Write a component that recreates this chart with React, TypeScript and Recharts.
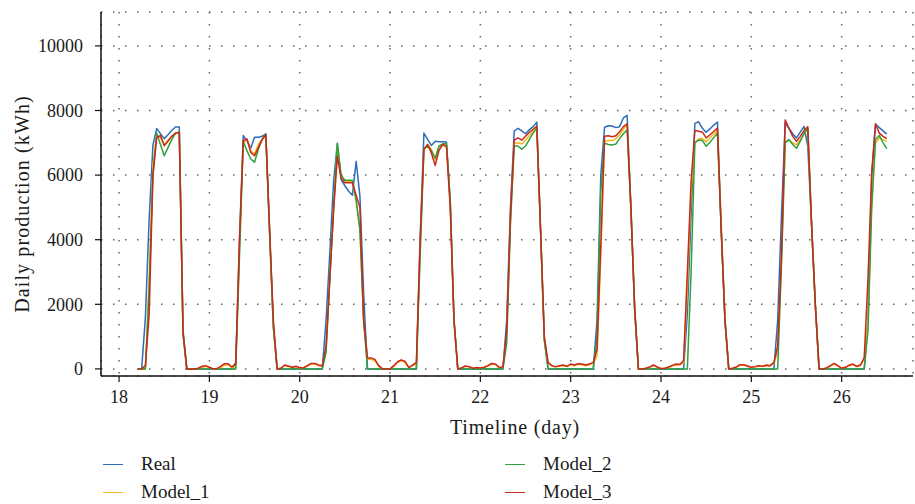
import React from 'react';
import { LineChart, Line, XAxis, YAxis, CartesianGrid } from 'recharts';

// hourly samples, the first one is 05:00 of day 18, the last one 12:00 of day 26
const firstHour = 5;

const real = [
  0, 0, 1600, 4650, 6930, 7440, 7280, 7130, 7250, 7380, 7490, 7490, 1100, 0, 0, 0, 0, 0, 0,
  0, 0, 0, 0, 0, 0, 0, 200, 4000, 7230, 7050, 6840, 7170, 7170, 7200, 7280, 4200, 1300, 0, 0, 0, 0, 0, 0,
  0, 0, 0, 0, 0, 0, 0, 1500, 3600, 5800, 6990, 5860, 5670, 5500, 5380, 6430, 5350, 2300, 0, 0, 0, 0, 0, 0,
  0, 0, 0, 0, 0, 0, 0, 0, 4000, 7300, 7100, 6920, 7045, 7030, 7030, 7025, 5200, 1500, 0, 0, 0, 0, 0, 0,
  0, 0, 0, 0, 0, 0, 0, 1500, 5000, 7360, 7450, 7370, 7280, 7400, 7500, 7640, 4300, 900, 0, 0, 0, 0, 0, 0,
  0, 0, 0, 0, 0, 0, 0, 1500, 6000, 7480, 7530, 7520, 7470, 7500, 7770, 7850, 5000, 1800, 0, 0, 0, 0, 0, 0,
  0, 0, 0, 0, 0, 0, 0, 1700, 4800, 7600, 7650, 7450, 7330, 7430, 7550, 7640, 4300, 1500, 0, 0, 0, 0, 0, 0,
  0, 0, 0, 0, 0, 0, 0, 1500, 4700, 7610, 7450, 7280, 7150, 7330, 7510, 6900, 4500, 2000, 0, 0, 0, 0, 0, 0,
  0, 0, 0, 0, 0, 0, 0, 1500, 6000, 7580, 7470, 7370, 7270,
];

const model1 = [
  0, 0, 0, 2800, 6300, 7250, 7150, 6950, 7080, 7200, 7300, 7330, 1100, 0, 0, 0, 0, 40, 80,
  40, 0, 0, 30, 120, 120, 30, 50, 3800, 7000, 7100, 6750, 6650, 6950, 7100, 7250, 4200, 1300, 0, 30, 100, 70, 40, 70,
  30, 30, 80, 150, 150, 100, 80, 600, 2800, 5000, 6900, 5950, 5800, 5800, 5800, 5250, 4300, 1400, 300, 300, 250, 80, 0, 0,
  0, 80, 200, 250, 200, 40, 100, 150, 3800, 6800, 6950, 6800, 6480, 6850, 6910, 6940, 5100, 1500, 0, 30, 80, 60, 20, 30,
  30, 40, 90, 150, 130, 40, 50, 1000, 4600, 6980, 7000, 6960, 7080, 7220, 7350, 7460, 4300, 900, 180, 90, 60, 90, 100, 70,
  130, 100, 140, 130, 100, 130, 170, 400, 3500, 7050, 7070, 7070, 7130, 7240, 7420, 7560, 5000, 1900, 0, 0, 20, 50, 100, 50,
  10, 20, 50, 90, 130, 120, 200, 2500, 5500, 7000, 7110, 7130, 7030, 7150, 7270, 7380, 4500, 1600, 0, 20, 50, 110, 110, 80,
  40, 60, 90, 70, 100, 90, 180, 500, 3300, 7050, 7080, 7000, 6940, 7100, 7280, 7440, 4500, 2000, 0, 0, 30, 90, 150, 90,
  20, 40, 100, 130, 70, 100, 300, 1500, 5200, 7000, 7150, 7100, 7045,
];

const model2 = [
  0, 0, 0, 2500, 6000, 7300, 6950, 6600, 6850, 7100, 7300, 7330, 1200, 0, 0, 0, 0, 0, 0,
  0, 0, 0, 0, 0, 0, 0, 0, 3500, 7045, 6750, 6500, 6400, 6800, 7100, 7250, 4300, 1300, 0, 0, 0, 0, 0, 0,
  0, 0, 0, 0, 0, 0, 0, 500, 2800, 5000, 6960, 6000, 5840, 5840, 5840, 5200, 4300, 1500, 0, 0, 0, 0, 0, 0,
  0, 0, 0, 0, 0, 0, 0, 0, 3500, 6800, 6900, 6750, 6530, 6900, 6960, 6980, 5200, 1500, 0, 0, 0, 0, 0, 0,
  0, 0, 0, 0, 0, 0, 0, 800, 4500, 6900, 6900, 6800, 6900, 7100, 7300, 7460, 4300, 900, 0, 0, 0, 0, 0, 0,
  0, 0, 0, 0, 0, 0, 0, 1000, 5500, 6990, 6950, 6930, 6960, 7130, 7280, 7400, 5000, 1900, 0, 0, 0, 0, 0, 0,
  0, 0, 0, 0, 0, 0, 0, 0, 3000, 7000, 7090, 7070, 6890, 7020, 7160, 7300, 4300, 1500, 0, 0, 0, 0, 0, 0,
  0, 0, 0, 0, 0, 0, 0, 0, 3200, 7000, 7100, 6950, 6830, 7050, 7280, 7440, 4500, 2000, 0, 0, 0, 0, 0, 0,
  0, 0, 0, 0, 0, 0, 0, 1200, 5000, 7100, 7230, 7000, 6820,
];

const model3 = [
  0, 0, 100, 1700, 6000, 7150, 7230, 6910, 7050, 7200, 7300, 7330, 1100, 0, 0, 0, 20, 80, 100,
  50, 0, 10, 80, 160, 160, 60, 150, 4000, 7070, 7120, 6700, 6600, 6850, 7100, 7250, 4300, 1500, 0, 20, 120, 90, 50, 80,
  40, 30, 100, 170, 170, 120, 100, 700, 2800, 4900, 6580, 5900, 5760, 5760, 5760, 5380, 5000, 1500, 340, 340, 290, 100, 0, 0,
  0, 100, 220, 280, 230, 40, 120, 200, 4000, 6800, 6950, 6680, 6300, 6760, 6960, 6870, 5000, 1500, 0, 30, 90, 70, 20, 40,
  30, 50, 100, 170, 150, 50, 60, 1200, 4800, 7080, 7150, 7080, 7200, 7320, 7420, 7510, 4300, 1000, 200, 100, 70, 100, 120, 80,
  150, 120, 160, 150, 120, 150, 200, 600, 3800, 7200, 7220, 7190, 7220, 7340, 7500, 7590, 5000, 1900, 0, 0, 20, 60, 120, 60,
  10, 20, 60, 110, 150, 140, 250, 3000, 5800, 7380, 7360, 7330, 7150, 7250, 7350, 7460, 4300, 1500, 0, 20, 60, 130, 130, 90,
  50, 70, 100, 80, 120, 100, 200, 700, 3500, 7710, 7450, 7200, 7050, 7200, 7380, 7500, 4500, 2000, 0, 0, 30, 100, 170, 100,
  20, 50, 120, 150, 80, 120, 350, 2800, 6100, 7580, 7300, 7200, 7130,
];

const xTicks = [18, 19, 20, 21, 22, 23, 24, 25, 26];
const yTicks = [0, 2000, 4000, 6000, 8000, 10000];

const series = [
  { key: 'real', name: 'Real', color: '#2e6db8' },
  { key: 'model1', name: 'Model_1', color: '#f9b51c' },
  { key: 'model2', name: 'Model_2', color: '#2ea23c' },
  { key: 'model3', name: 'Model_3', color: '#c9281c' },
];

const data = real.map((v, i) => ({
  t: 18 + (firstHour + i) / 24,
  real: v,
  model1: model1[i],
  model2: model2[i],
  model3: model3[i],
}));

const font = 'Liberation Serif, DejaVu Serif, serif';
const tickStyle = { fontSize: 18, fill: '#1a1a1a', fontFamily: font };

const LegendItem = ({ x, y, color, name }: { x: number; y: number; color: string; name: string }) => (
  <div style={{ position: 'absolute', left: x, top: y - 11, height: 22, display: 'flex', alignItems: 'center' }}>
    <div style={{ width: 20, height: 0, borderTop: `1.5px solid ${color}` }} />
    <span style={{ marginLeft: 18, fontSize: 19, color: '#1a1a1a' }}>{name}</span>
  </div>
);

export default function App() {
  return (
    <div style={{ position: 'absolute', left: 0, top: 0, width: 915, height: 504, background: '#fff', fontFamily: font }}>
      <LineChart width={915} height={440} data={data} margin={{ top: 12, right: 2, bottom: 0, left: 0 }}>
        <CartesianGrid stroke="#666" strokeDasharray="1.5 10.5" strokeWidth={1.5} />
        <XAxis
          dataKey="t"
          type="number"
          domain={[17.8, 26.79]}
          ticks={xTicks}
          allowDataOverflow
          height={64}
          tickSize={6}
          tickMargin={8}
          tick={tickStyle}
          axisLine={{ stroke: '#111', strokeWidth: 1.5 }}
          tickLine={{ stroke: '#111', strokeWidth: 1.2 }}
        />
        <YAxis
          type="number"
          domain={[-220, 11050]}
          ticks={yTicks}
          allowDataOverflow
          width={101}
          tickSize={6}
          tickMargin={12}
          tick={tickStyle}
          axisLine={{ stroke: '#111', strokeWidth: 1.5 }}
          tickLine={{ stroke: '#111', strokeWidth: 1.2 }}
        />
        {series.map((s) => (
          <Line
            key={s.key}
            type="linear"
            dataKey={s.key}
            name={s.name}
            stroke={s.color}
            strokeWidth={1.5}
            strokeLinejoin="round"
            dot={false}
            activeDot={false}
            isAnimationActive={false}
          />
        ))}
      </LineChart>

      <div
        style={{
          position: 'absolute',
          left: 22,
          top: 204,
          transform: 'translate(-50%, -50%) rotate(-90deg)',
          whiteSpace: 'nowrap',
          fontSize: 20,
          letterSpacing: 1.1,
          color: '#1a1a1a',
        }}
      >
        Daily production (kWh)
      </div>
      <div
        style={{
          position: 'absolute',
          left: 515,
          top: 427,
          transform: 'translate(-50%, -50%)',
          whiteSpace: 'nowrap',
          fontSize: 20,
          letterSpacing: 0.8,
          color: '#1a1a1a',
        }}
      >
        Timeline (day)
      </div>

      <LegendItem x={103} y={464} color={series[0].color} name={series[0].name} />
      <LegendItem x={103} y={492} color={series[1].color} name={series[1].name} />
      <LegendItem x={505} y={464} color={series[2].color} name={series[2].name} />
      <LegendItem x={505} y={492} color={series[3].color} name={series[3].name} />
    </div>
  );
}
